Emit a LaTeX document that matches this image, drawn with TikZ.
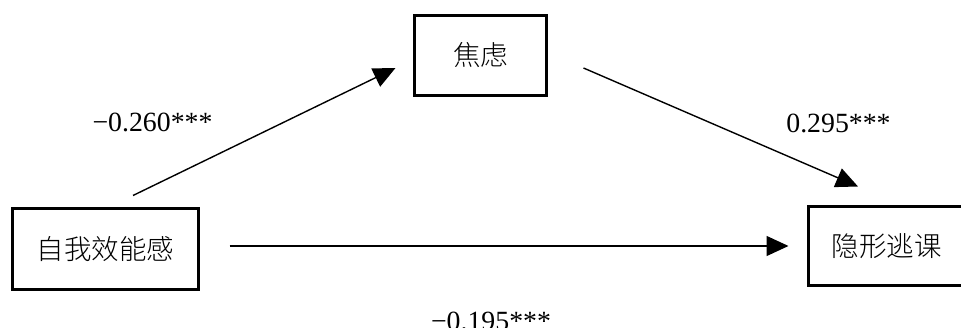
\documentclass[tikz,border=0pt]{standalone}
\usepackage{fontspec}
\setmainfont{Liberation Serif}
\newfontfamily\cjk{Noto Sans CJK SC Light}
\usetikzlibrary{arrows.meta}
\tikzset{
  box/.style={draw=black, line width=3pt, inner sep=0pt, font=\cjk\fontsize{27.5}{30}\selectfont},
  conn/.style={line width=1.4pt, -{Triangle[length=22pt,width=20pt]}},
  coef/.style={inner sep=0pt, font=\fontsize{27.8}{30}\selectfont}
}
\begin{document}
\begin{tikzpicture}[x=1pt,y=-1pt]
\useasboundingbox (0,0) rectangle (961,328);
\clip (0,0) rectangle (961,328);
\fill[white] (0,0) rectangle (961,328);
\node[box, minimum width=186pt, minimum height=81pt] (L) at (105.5,249) {自我效能感};
\node[box, minimum width=132pt, minimum height=80pt] (T) at (480.5,55.5) {焦虑};
\node[box, minimum width=156.5pt, minimum height=79pt] (R) at (886.75,246) {隐形逃课};
\draw[conn] ([shift={(27.5,-11.5)}]L.north) -- ([shift={(-17.5,12.5)}]T.west);
\draw[conn] ([shift={(35.5,12.5)}]T.east) -- ([shift={(-28.75,-18.5)}]R.north);
\draw[conn] ([shift={(29.5,-3)}]L.east) -- ([shift={(-18.5,0)}]R.west);
\node[coef] (a) at (152.5,122) {−0.260***};
\node[coef] (b) at (838.5,123) {0.295***};
\node[coef, anchor=base] (c) at (491,331) {−0.195***};
\end{tikzpicture}
\end{document}
